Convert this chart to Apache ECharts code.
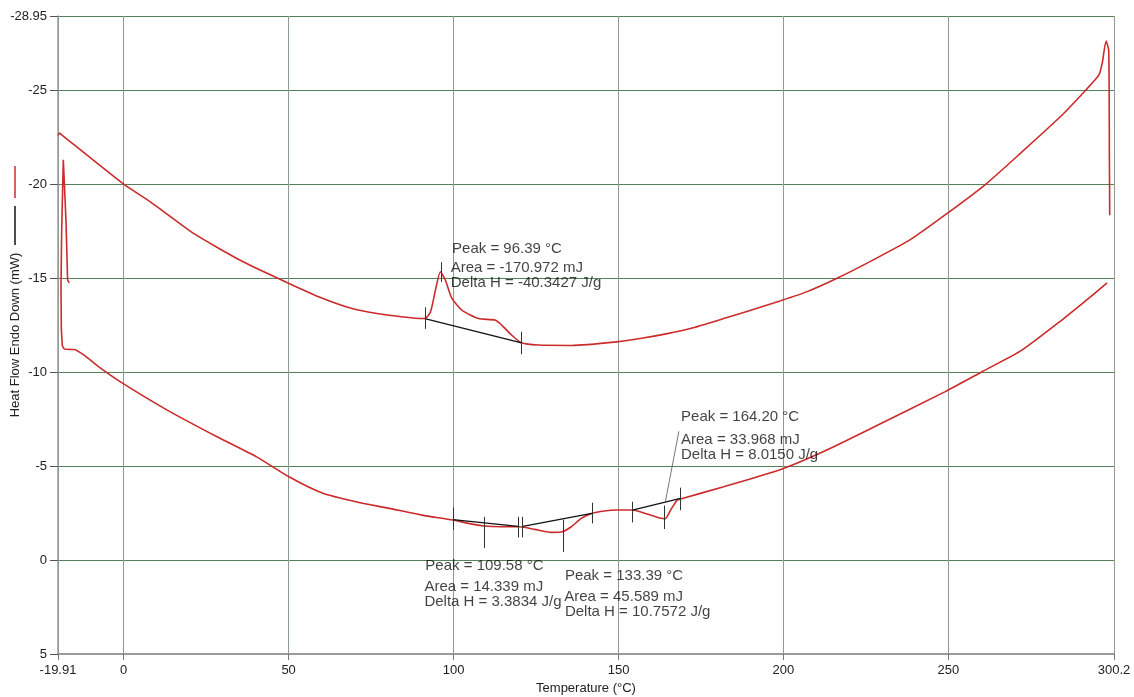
<!DOCTYPE html>
<html>
<head>
<meta charset="utf-8">
<script src="https://cdn.jsdelivr.net/npm/echarts@6/dist/echarts.min.js"></script>
<style>
html,body{margin:0;padding:0;background:#fff;}
#chart{width:1134px;height:697px;}
</style>
</head>
<body>
<div id="chart"></div>
<script>
// ---------- data ----------
var xTicks = [-19.91, 0, 50, 100, 150, 200, 250, 300.2];
var yTicks = [-28.95, -25, -20, -15, -10, -5, 0, 5];

// upper trace (Temperature °C, Heat flow mW)
var upperCurve = [
  [-19.9,-22.6],[-19.4,-22.72],[-18.9,-22.64],[0,-20],[8.1,-19.06],[21.2,-17.38],[36.2,-15.87],
  [50.1,-14.72],[60.4,-13.92],[70.4,-13.33],[80.5,-13.03],[91.3,-12.85],[93.0,-13.2],[94.5,-14.36],
  [96.0,-15.34],[97.5,-14.9],[99.5,-13.92],[102.5,-13.3],[107.5,-12.85],[112.6,-12.77],[114.6,-12.5],
  [117.6,-11.97],[120.6,-11.56],[125.6,-11.44],[135.7,-11.42],[149.5,-11.61],[157.0,-11.8],[164.8,-12.05],
  [171.8,-12.32],[181.9,-12.85],[192.0,-13.4],[199.2,-13.8],[207.0,-14.27],[216.1,-14.98],[227.1,-15.96],
  [238.2,-17.02],[248.9,-18.35],[261.2,-19.98],[272.3,-21.72],[284.4,-23.67],[291.6,-25.0],[295.6,-25.8],
  [296.6,-26.42],[297.8,-27.62],[298.6,-27.1],[298.8,-21.6],[298.9,-18.35]
];

// lower trace: start-up spike, then the main sweep
var lowerSpike = [
  [-16.5,-14.75],[-17.0,-14.9],[-17.5,-18.1],[-18.3,-21.3],[-18.8,-17.5],[-19.0,-14.5],[-18.9,-12.3],
  [-18.6,-11.4],[-18.0,-11.22]
];
var lowerCurve = [
  [-18.0,-11.22],[-15.0,-11.2],[-12.0,-10.9],[-6.9,-10.2],[0.1,-9.36],[13.2,-7.98],
  [28.3,-6.56],[40.3,-5.49],[50.1,-4.43],[60.4,-3.55],[70.4,-3.10],[80.5,-2.75],[90.5,-2.39],
  [99.8,-2.13],[104.5,-1.95],[109.2,-1.81],[114.6,-1.77],[120.1,-1.77],[124.6,-1.63],[129.6,-1.47],
  [132.7,-1.49],[135.7,-1.77],[138.7,-2.22],[141.9,-2.48],[145.7,-2.61],[149.5,-2.66],[154.2,-2.66],
  [158.7,-2.45],[162.8,-2.22],[164.2,-2.2],[165.8,-2.66],[167.8,-3.19],[168.8,-3.25],[181.9,-3.90],
  [199.2,-4.82],[212.0,-5.76],[227.1,-7.05],[248.9,-8.95],[260.2,-10.02],[272.3,-11.17],[284.4,-12.77],
  [292.5,-13.92],[298.1,-14.75]
];

// integration baselines [start, end]
var baselines = [
  [[91.3,-12.85],[120.6,-11.56]],
  [[99.8,-2.15],[119.6,-1.79]],
  [[121.0,-1.79],[141.9,-2.48]],
  [[154.2,-2.66],[168.8,-3.28]]
];

// small vertical limit / peak marks [x, yTop, yBottom]
var limitTicks = [
  [91.3,-13.45,-12.3],[120.6,-12.15,-10.95],[96.2,-15.85,-14.8],
  [99.8,-2.8,-1.6],[109.4,-2.3,-0.64],[119.6,-2.3,-1.2],[120.9,-2.3,-1.2],
  [133.2,-2.15,-0.43],[141.9,-3.05,-1.95],[154.2,-3.1,-2.0],[163.8,-2.9,-1.65],[168.8,-3.85,-2.65]
];

// leader line from the 164.20 °C peak to its label
var leader = [[164.2,-3.1],[168.3,-6.85]];

// annotation texts: [x, y, text]
var annotations = [
  [99.4,-16.55,'Peak = 96.39 °C'],
  [99.0,-15.55,'Area = -170.972 mJ'],
  [99.0,-14.75,'Delta H = -40.3427 J/g'],
  [91.3,0.32,'Peak = 109.58 °C'],
  [91.0,1.42,'Area = 14.339 mJ'],
  [91.0,2.22,'Delta H = 3.3834 J/g'],
  [133.6,0.85,'Peak = 133.39 °C'],
  [133.4,1.95,'Area = 45.589 mJ'],
  [133.6,2.75,'Delta H = 10.7572 J/g'],
  [168.8,-7.62,'Peak = 164.20 °C'],
  [168.8,-6.38,'Area = 33.968 mJ'],
  [168.8,-5.59,'Delta H = 8.0150 J/g']
];

var xName = 'Temperature (°C)';
var yName = 'Heat Flow Endo Down (mW)';

// ---------- chart ----------
var FONT = '"Liberation Sans", Arial, sans-serif';
var RED = '#cc2b2b';
var chart = echarts.init(document.getElementById('chart'), null, {renderer:'canvas'});

var tickSegs = limitTicks.map(function(t){ return {coords:[[t[0],t[1]],[t[0],t[2]]]}; });
var baseSegs = baselines.map(function(b){ return {coords:b}; });

var option = {
  animation:false,
  backgroundColor:'#ffffff',
  grid:{left:58,right:20,top:16,bottom:43,containLabel:false,outerBoundsMode:'none'},
  xAxis:{
    type:'value', min:-19.91, max:300.2,
    name:xName, nameLocation:'middle', nameGap:28, nameMoveOverlap:false,
    nameTextStyle:{fontFamily:FONT,fontSize:13,color:'#222'},
    axisLine:{onZero:false,lineStyle:{color:'#9a9a9a',width:2}},
    axisTick:{show:true,length:6,lineStyle:{color:'#777'},customValues:xTicks},
    axisLabel:{fontFamily:FONT,fontSize:13,color:'#222',margin:10,customValues:xTicks,
      formatter:function(v){return String(v);}},
    splitLine:{show:true,lineStyle:{color:'#8c9c90',width:1}}
  },
  yAxis:{
    type:'value', min:-28.95, max:5, inverse:true,
    name:yName, nameLocation:'middle', nameGap:36, nameRotate:90, nameMoveOverlap:false,
    nameTextStyle:{fontFamily:FONT,fontSize:13,color:'#222'},
    axisLine:{onZero:false,lineStyle:{color:'#9a9a9a',width:1.5}},
    axisTick:{show:true,length:8,lineStyle:{color:'#555'},customValues:yTicks},
    axisLabel:{fontFamily:FONT,fontSize:13,color:'#222',margin:11,customValues:yTicks,
      formatter:function(v){return String(v);}},
    splitLine:{show:true,lineStyle:{color:'#56805a',width:1}}
  },
  series:[
    {type:'line',data:upperCurve,showSymbol:false,symbol:'none',smooth:0.2,
      lineStyle:{color:RED,width:1.6},silent:true,z:3},
    {type:'line',data:lowerSpike,showSymbol:false,symbol:'none',
      lineStyle:{color:RED,width:1.6},silent:true,z:3},
    {type:'line',data:lowerCurve,showSymbol:false,symbol:'none',smooth:0.2,
      lineStyle:{color:RED,width:1.6},silent:true,z:3},
    {type:'lines',coordinateSystem:'cartesian2d',data:baseSegs,
      lineStyle:{color:'#111',width:1.3,opacity:1},silent:true,z:4},
    {type:'lines',coordinateSystem:'cartesian2d',data:tickSegs,
      lineStyle:{color:'#333',width:1,opacity:1},silent:true,z:4},
    {type:'lines',coordinateSystem:'cartesian2d',data:[{coords:leader}],
      lineStyle:{color:'#555',width:0.8,opacity:1},silent:true,z:4},
    {type:'scatter',symbolSize:1,itemStyle:{color:'rgba(0,0,0,0)'},silent:true,z:5,
      data:annotations.map(function(a){return {value:[a[0],a[1]],name:a[2]};}),
      label:{show:true,position:'right',distance:0,formatter:function(p){return p.name;},
        fontFamily:FONT,fontSize:15,color:'#111'}}
  ],
  graphic:[
    {type:'line',shape:{x1:15,y1:166,x2:15,y2:198},style:{stroke:RED,lineWidth:1.5}},
    {type:'line',shape:{x1:15,y1:206,x2:15,y2:245},style:{stroke:'#111',lineWidth:1.5}}
  ]
};
chart.setOption(option);
</script>
</body>
</html>
